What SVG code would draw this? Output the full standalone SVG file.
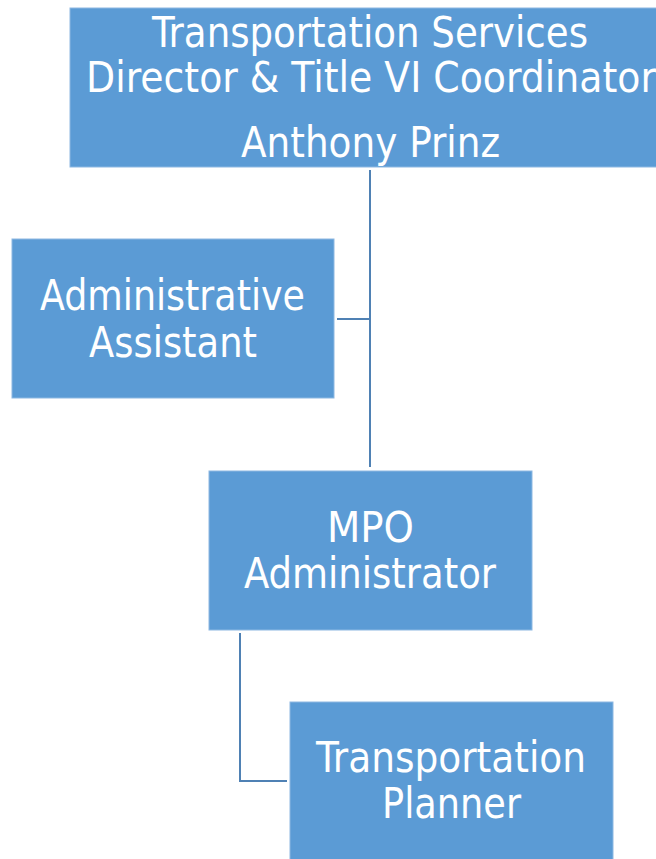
<svg xmlns="http://www.w3.org/2000/svg" width="656" height="859" viewBox="0 0 656 859">
<style>
.box{fill:#5b9bd5;stroke:#8db8e2;stroke-width:1}
.t{fill:#ffffff;font-family:"DejaVu Sans Condensed","DejaVu Sans",sans-serif;font-size:42px}
.c{fill:none;stroke:#4f81b4;stroke-width:2}
</style>
<rect width="656" height="859" fill="#ffffff"/>
<g id="connectors">
<path class="c" d="M370,170 V467"/>
<path class="c" d="M337,319 H370"/>
<path class="c" d="M240,633 V781 H287"/>
</g>
<g id="director">
<rect class="box" x="70" y="8" width="601" height="159"/>
<text class="t" x="152" y="47" textLength="436" lengthAdjust="spacingAndGlyphs">Transportation Services</text>
<text class="t" x="86" y="92" textLength="570" lengthAdjust="spacingAndGlyphs">Director &amp; Title VI Coordinator</text>
<text class="t" x="241" y="157" textLength="259" lengthAdjust="spacingAndGlyphs">Anthony Prinz</text>
</g>
<g id="admin-assistant">
<rect class="box" x="12" y="239" width="322" height="159"/>
<text class="t" x="40" y="310" textLength="265" lengthAdjust="spacingAndGlyphs">Administrative</text>
<text class="t" x="89" y="357" textLength="168" lengthAdjust="spacingAndGlyphs">Assistant</text>
</g>
<g id="mpo-administrator">
<rect class="box" x="209" y="471" width="323" height="159"/>
<text class="t" x="327" y="542" textLength="87" lengthAdjust="spacingAndGlyphs">MPO</text>
<text class="t" x="244" y="588" textLength="252" lengthAdjust="spacingAndGlyphs">Administrator</text>
</g>
<g id="transportation-planner">
<rect class="box" x="290" y="702" width="323" height="165"/>
<text class="t" x="316" y="772" textLength="270" lengthAdjust="spacingAndGlyphs">Transportation</text>
<text class="t" x="382" y="818" textLength="139" lengthAdjust="spacingAndGlyphs">Planner</text>
</g>
</svg>
